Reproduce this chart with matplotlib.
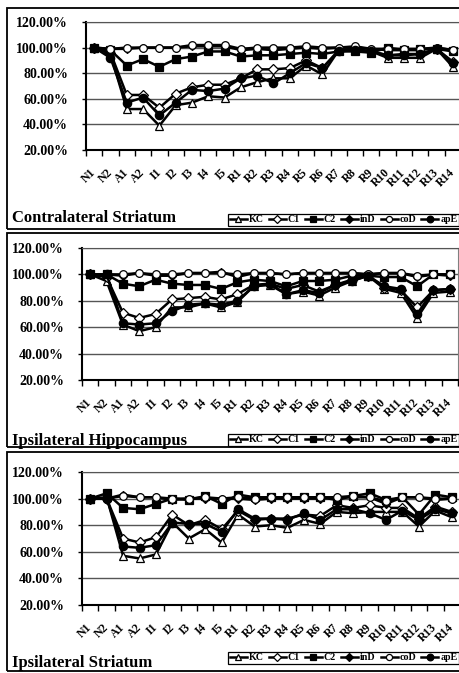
import numpy as np
import matplotlib
matplotlib.use('Agg')
import matplotlib.pyplot as plt
from matplotlib.patches import Rectangle
from matplotlib.ticker import FixedLocator, FuncFormatter

plt.rcParams['font.family'] = ['Liberation Serif', 'DejaVu Serif']
plt.rcParams['font.weight'] = 'bold'

# =====================================
# Data (percent of baseline)
# =====================================
categories = ['N1', 'N2', 'A1', 'A2', 'I1', 'I2', 'I3', 'I4', 'I5',
              'R1', 'R2', 'R3', 'R4', 'R5', 'R6', 'R7', 'R8', 'R9',
              'R10', 'R11', 'R12', 'R13', 'R14']
series_names = ['KC', 'C1', 'C2', 'inD', 'coD', 'apE']

# Contralateral Striatum
contra_kc = [100, 95, 52, 52, 39, 55, 57, 62, 61, 69, 73, 76, 76, 86, 79, 98, 98, 97, 92, 92, 92, 99, 85]
contra_c1 = [100, 96, 63, 63, 53, 64, 69, 71, 71, 76, 83, 83, 84, 90, 84, 98, 99, 97, 94, 95, 95, 99, 89]
contra_c2 = [100, 98, 86, 91, 85, 91, 93, 97, 97, 93, 94, 94, 95, 96, 95, 97, 97, 96, 100, 98, 99, 99, 97]
contra_ind = [100, 99, 99, 100, 100, 100, 101, 101, 101, 98, 99, 98, 99, 100, 99, 100, 100, 99, 98, 98, 98, 100, 98]
contra_cod = [100, 99, 100, 100, 100, 100, 102, 102, 102, 99, 100, 100, 100, 101, 100, 100, 101, 99, 99, 99, 99, 100, 98]
contra_ape = [100, 92, 57, 61, 47, 57, 67, 66, 68, 76, 78, 72, 80, 88, 84, 97, 98, 97, 94, 94, 95, 99, 88]

# Ipsilateral Hippocampus
hippo_kc = [100, 95, 62, 57, 60, 75, 75, 78, 75, 79, 91, 92, 85, 87, 84, 90, 95, 99, 89, 86, 67, 86, 87]
hippo_c1 = [100, 98, 71, 67, 70, 81, 82, 83, 81, 85, 92, 93, 89, 92, 87, 92, 96, 99, 90, 88, 75, 88, 89]
hippo_c2 = [100, 100, 93, 91, 96, 93, 92, 92, 89, 94, 96, 95, 91, 95, 95, 96, 99, 99, 98, 98, 91, 100, 100]
hippo_ind = [100, 100, 99, 101, 99, 99, 101, 101, 102, 98, 101, 101, 100, 101, 101, 101, 101, 100, 101, 101, 98, 100, 99]
hippo_cod = [100, 100, 100, 101, 100, 100, 101, 101, 101, 100, 101, 101, 100, 101, 101, 101, 101, 100, 101, 101, 99, 100, 100]
hippo_ape = [100, 100, 63, 62, 63, 72, 77, 78, 77, 80, 91, 93, 85, 88, 86, 92, 95, 99, 91, 89, 70, 88, 89]

# Ipsilateral Striatum
ipsi_kc = [100, 101, 57, 55, 58, 82, 70, 77, 67, 88, 79, 80, 78, 84, 81, 90, 89, 90, 90, 90, 79, 91, 86]
ipsi_c1 = [100, 100, 70, 67, 71, 88, 80, 84, 77, 91, 84, 85, 85, 88, 87, 95, 93, 95, 93, 93, 85, 94, 90]
ipsi_c2 = [100, 104, 93, 92, 96, 100, 99, 102, 96, 103, 101, 101, 101, 101, 101, 99, 102, 104, 99, 101, 88, 103, 101]
ipsi_ind = [100, 100, 103, 101, 101, 99, 100, 100, 100, 100, 99, 100, 100, 100, 100, 101, 101, 101, 96, 101, 101, 99, 100]
ipsi_cod = [100, 100, 102, 101, 101, 100, 100, 101, 100, 101, 100, 101, 101, 101, 101, 101, 102, 101, 98, 101, 101, 100, 100]
ipsi_ape = [100, 100, 64, 63, 65, 82, 81, 81, 75, 92, 85, 85, 84, 89, 84, 92, 92, 89, 84, 91, 84, 92, 89]

panels = [
    ('Contralateral Striatum', [contra_kc, contra_c1, contra_c2, contra_ind, contra_cod, contra_ape]),
    ('Ipsilateral Hippocampus', [hippo_kc, hippo_c1, hippo_c2, hippo_ind, hippo_cod, hippo_ape]),
    ('Ipsilateral Striatum', [ipsi_kc, ipsi_c1, ipsi_c2, ipsi_ind, ipsi_cod, ipsi_ape]),
]

# marker, face colour, size for each series
styles = [('^', 'white', 6.0), ('D', 'white', 5.0), ('s', 'black', 6.0),
          ('D', 'black', 4.5), ('o', 'white', 5.5), ('o', 'black', 6.0)]

# =====================================
# Layout (pixels in a 460x673 image)
# =====================================
W, H = 460., 673.
fig = plt.figure(figsize=(W / 100, H / 100), dpi=100)

# axes boxes: left, right, top, bottom
ax_px = [(86, 461, 22, 150), (82, 458, 248, 380), (82, 460, 472, 605)]
# panel frames: top, bottom
frame_px = [(8, 229), (233, 447), (452, 671)]
title_y = [222, 445, 667]
legend_y = [220, 440, 658]

x = np.arange(len(categories))

for k, (title, data) in enumerate(panels):
    l, r, t, b = ax_px[k]
    ax = fig.add_axes([l / W, 1 - b / H, (r - l) / W, (b - t) / H])
    handles = []
    for name, vals, (m, fc, ms) in zip(series_names, data, styles):
        h, = ax.plot(x, vals, color='black', lw=1.8, marker=m, mfc=fc,
                     mec='black', mew=0.9, ms=ms, label=name)
        handles.append(h)
    ax.set_xlim(-0.5, len(categories) - 0.5)
    ax.set_ylim(20, 120)
    ax.yaxis.set_major_locator(FixedLocator([20, 40, 60, 80, 100, 120]))
    ax.yaxis.set_major_formatter(FuncFormatter(lambda v, p: '%.2f%%' % v))
    ax.yaxis.grid(True, color='#555555', lw=1.0)
    ax.set_axisbelow(True)
    # ticks between categories, labels at the centres
    ax.set_xticks(np.arange(len(categories) + 1) - 0.5)
    ax.set_xticklabels([])
    ax.set_xticks(x, minor=True)
    ax.set_xticklabels(categories, minor=True, rotation=45, ha='right',
                       va='center', rotation_mode='anchor', fontsize=8.5,
                       fontweight='bold')
    ax.tick_params(axis='x', which='minor', length=0, pad=15)
    ax.tick_params(axis='x', which='major', length=4, width=1, direction='out')
    ax.tick_params(axis='y', length=3, width=1, labelsize=10, pad=10)
    for lab in ax.get_yticklabels():
        lab.set_fontweight('bold')
    for s in ['left', 'bottom']:
        ax.spines[s].set_linewidth(1.5)
    ax.spines['top'].set_color('#555555')
    ax.spines['right'].set_color('#808080')
    if k != 1:
        ax.spines['right'].set_visible(False)

    # panel frame
    ft, fb = frame_px[k]
    fig.patches.append(Rectangle((7 / W, 1 - fb / H), (470 - 7) / W, (fb - ft) / H,
                                 transform=fig.transFigure, fill=False,
                                 edgecolor='black', lw=1.3))
    fig.text(12 / W, 1 - title_y[k] / H, title, fontsize=12,
             fontweight='bold', ha='left', va='baseline')

    leg = fig.legend(handles=handles, loc='center right',
                     bbox_to_anchor=(459 / W, 1 - legend_y[k] / H),
                     ncol=6, fontsize=7.2, handlelength=1.7, handletextpad=0.2,
                     columnspacing=0.5, borderpad=0.15, markerscale=0.8,
                     frameon=True, fancybox=False, framealpha=1,
                     edgecolor='black', borderaxespad=0)
    leg.get_frame().set_linewidth(0.9)
    for txt in leg.get_texts():
        txt.set_fontweight('bold')

fig.savefig('out.png', dpi=100)
